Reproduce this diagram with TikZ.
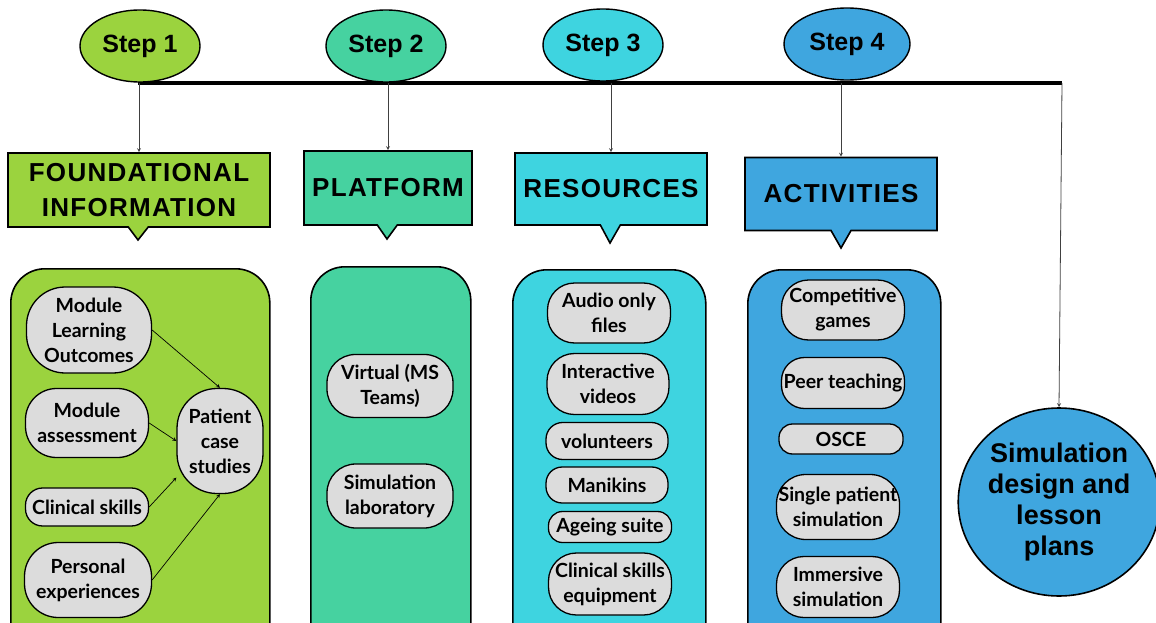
\documentclass[tikz,border=0pt]{standalone}
\usepackage{fontspec}
\setmainfont{Liberation Sans}
\newfontfamily\itemfont{Lato}
\newfontfamily\headfont[LetterSpace=5]{Liberation Sans}
\usetikzlibrary{shapes.geometric, shapes.callouts, arrows}

\definecolor{stepgreen}{RGB}{155,211,62}
\definecolor{stepteal}{RGB}{70,210,160}
\definecolor{stepcyan}{RGB}{62,212,224}
\definecolor{stepblue}{RGB}{63,166,223}
\definecolor{pillgray}{RGB}{220,220,220}

\begin{document}
\begin{tikzpicture}[x=1pt, y=-1pt, >=stealth,
    stepnode/.style={ellipse, draw, line width=1.4pt, minimum width=120pt, minimum height=72pt, inner sep=0pt, font=\fontsize{25}{29}\selectfont\bfseries},
    header/.style={rectangle callout, draw, line width=1.6pt, callout pointer width=20pt, inner sep=0pt, align=center, font=\headfont\fontsize{26}{35}\selectfont\bfseries},
    panel/.style={draw, line width=1.6pt, rounded corners=34pt, anchor=north west, inner sep=0pt},
    pill/.style 2 args={draw, fill=pillgray, line width=1.3pt, minimum width=#1, minimum height=#2, rounded corners={0.45*#2}, inner sep=0pt, align=center, font=\itemfont\fontsize{19.5}{25}\selectfont\bfseries},
    link/.style={->, draw=black!75, line width=0.8pt},
    flow/.style={->, line width=0.7pt}]

    \useasboundingbox (0,0) rectangle (1156,623);
    \clip (0,0) rectangle (1156,623);

    % Timeline bar
    \coordinate (barL) at (138,83);
    \coordinate (barR) at (1062,83);
    \draw[line width=4pt] (barL) -- (barR);

    % Steps
    \node[stepnode, fill=stepgreen] (s1) at (140,46) {Step 1};
    \node[stepnode, fill=stepteal] (s2) at (386,46) {Step 2};
    \node[stepnode, fill=stepcyan] (s3) at (603,45) {Step 3};
    \node[stepnode, fill=stepblue, minimum width=126pt] (s4) at (847,44) {Step 4};

    % Headers
    \node[header, fill=stepgreen, minimum width=262pt, minimum height=74pt, callout absolute pointer={(138,240)}] (hfound) at (139,190) {FOUNDATIONAL\\INFORMATION};
    \node[header, fill=stepteal, minimum width=168pt, minimum height=74pt, callout absolute pointer={(387,239)}] (hplat) at (388,188) {PLATFORM};
    \node[header, fill=stepcyan, minimum width=192pt, minimum height=72pt, callout absolute pointer={(610,243)}] (hres) at (611,189) {RESOURCES};
    \node[header, fill=stepblue, minimum width=192pt, minimum height=73pt, callout absolute pointer={(841,248)}] (hact) at (841,194) {ACTIVITIES};

    \draw[link] (barL -| hfound.north) -- (hfound.north);
    \draw[link] (barL -| hplat.north) -- (hplat.north);
    \draw[link] (barL -| hres.north) -- (hres.north);
    \draw[link] (barL -| hact.north) -- (hact.north);

    % Panels
    \node[panel, fill=stepgreen, minimum width=259pt, minimum height=400pt] (p1) at (10,268) {};
    \node[panel, fill=stepteal, minimum width=160pt, minimum height=400pt] (p2) at (310,266) {};
    \node[panel, fill=stepcyan, minimum width=193pt, minimum height=400pt] (p3) at (512,269) {};
    \node[panel, fill=stepblue, minimum width=193pt, minimum height=400pt] (p4) at (747,269) {};

    % Foundational information
    \node[pill={125pt}{86pt}] (mlo) at (89,330) {Module\\Learning\\Outcomes};
    \node[pill={123pt}{69pt}] (mas) at (87,423) {Module\\assessment};
    \node[pill={123pt}{38pt}] (clin) at (87,507) {Clinical skills};
    \node[pill={127pt}{75pt}] (pers) at (88,580) {Personal\\experiences};
    \node[pill={86pt}{105pt}, rounded corners=40pt] (pcs) at (220,441) {Patient\\case\\studies};

    \draw[flow] (mlo.east) -- (pcs.north);
    \draw[flow] (mas.east) -- (pcs.west);
    \draw[flow] (clin.east) -- (pcs.220);
    \draw[flow] (pers.east) -- (pcs.south);

    % Platform
    \node[pill={126pt}{63pt}] (virt) at (390,386) {Virtual (MS\\Teams)};
    \node[pill={126pt}{64pt}] (slab) at (390,496) {Simulation\\laboratory};

    % Resources
    \node[pill={123pt}{60pt}] (audio) at (609,313) {Audio only\\files};
    \node[pill={122pt}{61pt}] (video) at (608,384) {Interactive\\videos};
    \node[pill={122pt}{37pt}] (vol) at (607,441) {volunteers};
    \node[pill={122pt}{36pt}] (mani) at (607,485) {Manikins};
    \node[pill={123pt}{31pt}] (age) at (610,527) {Ageing suite};
    \node[pill={123pt}{62pt}] (equip) at (610,584) {Clinical skills\\equipment};

    % Activities
    \node[pill={123pt}{60pt}] (games) at (843,310) {Competitive\\games};
    \node[pill={123pt}{51pt}] (peer) at (843,383) {Peer teaching};
    \node[pill={124pt}{30pt}] (osce) at (841,439) {OSCE};
    \node[pill={123pt}{65pt}] (single) at (838,507) {Single patient\\simulation};
    \node[pill={123pt}{61pt}] (immer) at (838,587) {Immersive\\simulation};

    % Outcome
    \node[ellipse, draw, fill=stepblue, line width=1.6pt, minimum width=196pt, minimum height=188pt, inner sep=0pt, align=center, font=\fontsize{27}{31}\selectfont\bfseries] (plan) at (1059,502) {Simulation\\design and\\lesson\\plans};
    \draw[link] (barR) -- (plan.north);
\end{tikzpicture}
\end{document}
